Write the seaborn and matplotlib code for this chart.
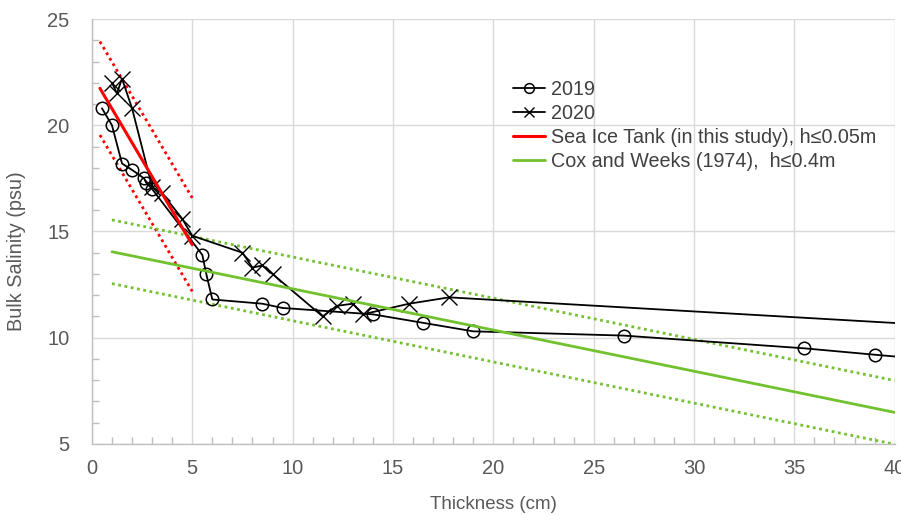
import seaborn as sns
import matplotlib.pyplot as plt
from matplotlib.ticker import MultipleLocator

# ---------------------------------------- Data ---------------------------------------- #
thick_2019 = [0.5, 1.0, 1.5, 2.0, 2.6, 2.7, 3.0, 5.5, 5.7, 6.0, 8.5, 9.5, 14.0, 16.5, 19.0, 26.5, 35.5, 39.0, 45.0]
sal_2019 = [20.8, 20.0, 18.2, 17.9, 17.5, 17.3, 17.0, 13.9, 13.0, 11.8, 11.6, 11.4, 11.1, 10.7, 10.3, 10.1, 9.5, 9.2, 8.7]

thick_2020 = [1.0, 1.25, 1.5, 2.0, 3.0, 3.5, 4.5, 5.0, 7.5, 8.0, 8.5, 9.0, 11.5, 12.2, 13.0, 13.5, 15.8, 17.8, 50.0]
sal_2020 = [22.0, 21.5, 22.2, 20.8, 17.1, 16.8, 15.6, 14.8, 14.0, 13.3, 13.4, 13.0, 11.0, 11.5, 11.6, 11.1, 11.6, 11.9, 10.15]

# linear fits S = a + b*h (h in cm), with +/- band
tank_h = [0.4, 5.0]
tank_a, tank_b, tank_band = 22.38, -1.6, 2.2
cox_h = [1.0, 40.0]
cox_a, cox_b, cox_band = 14.24, -0.1939, 1.5

red = "#ff0000"
green = "#72c12e"
grey_txt = "#595959"
grid_col = "#d9d9d9"

sns.set_style("whitegrid")
plt.rcParams["font.family"] = ["Liberation Sans", "DejaVu Sans"]

fig, ax = plt.subplots(figsize=(9.01, 5.15), dpi=100)
fig.subplots_adjust(left=0.102, right=0.993, top=0.963, bottom=0.138)


def fit(h, a, b, off=0.0):
    return [a + b * v + off for v in h]


# bands (dotted, not in legend)
for off in (tank_band, -tank_band):
    sns.lineplot(x=tank_h, y=fit(tank_h, tank_a, tank_b, off), ax=ax, color=red, lw=2,
                 linestyle=(0, (1, 1.3)), estimator=None, sort=False)
for off in (cox_band, -cox_band):
    sns.lineplot(x=cox_h, y=fit(cox_h, cox_a, cox_b, off), ax=ax, color=green, lw=2,
                 linestyle=(0, (1, 1.3)), estimator=None, sort=False)

sns.lineplot(x=thick_2019, y=sal_2019, ax=ax, color="black", lw=1.3, marker="o", markersize=9,
             mfc="none", mec="black", mew=1.1, estimator=None, sort=False, label="2019")
sns.lineplot(x=thick_2020, y=sal_2020, ax=ax, color="black", lw=1.3, marker="x", markersize=11,
             mec="black", mew=1.0, estimator=None, sort=False, label="2020")
sns.lineplot(x=tank_h, y=fit(tank_h, tank_a, tank_b), ax=ax, color=red, lw=2.2,
             estimator=None, sort=False, label="Sea Ice Tank (in this study), h\u22640.05m")
sns.lineplot(x=cox_h, y=fit(cox_h, cox_a, cox_b), ax=ax, color=green, lw=2,
             estimator=None, sort=False, label="Cox and Weeks (1974),  h\u22640.4m")

ax.set_xlim(0, 40)
ax.set_ylim(5, 25)
ax.xaxis.set_major_locator(MultipleLocator(5))
ax.xaxis.set_minor_locator(MultipleLocator(1))
ax.yaxis.set_major_locator(MultipleLocator(5))
ax.yaxis.set_minor_locator(MultipleLocator(1))

ax.grid(True, which="major", color=grid_col, lw=1)
ax.grid(False, which="minor")
for s in ("top", "right"):
    ax.spines[s].set_visible(False)
for s in ("left", "bottom"):
    ax.spines[s].set_color("#bfbfbf")
    ax.spines[s].set_linewidth(1)

ax.tick_params(axis="both", which="both", direction="in", colors="#bfbfbf", labelcolor=grey_txt,
               labelsize=14.5, bottom=True, left=True)
ax.tick_params(axis="both", which="major", length=0)
ax.tick_params(axis="both", which="minor", length=5, width=1)
ax.tick_params(axis="y", which="major", pad=16)
ax.tick_params(axis="x", which="major", pad=11)

ax.set_xlabel("Thickness (cm)", fontsize=13.5, color=grey_txt, labelpad=13)
ax.set_ylabel("Bulk Salinity (psu)", fontsize=14.3, color=grey_txt)
ax.yaxis.set_label_coords(-0.082, 0.454)

leg = ax.legend(loc="upper left", bbox_to_anchor=(0.515, 0.875), frameon=False, fontsize=14.2,
                handlelength=1.6, handletextpad=0.3, labelspacing=0.25, borderaxespad=0)
for t in leg.get_texts():
    t.set_color("#404040")
for h in leg.legend_handles:
    h.set_markersize(7)

plt.savefig("out.png", dpi=100)
